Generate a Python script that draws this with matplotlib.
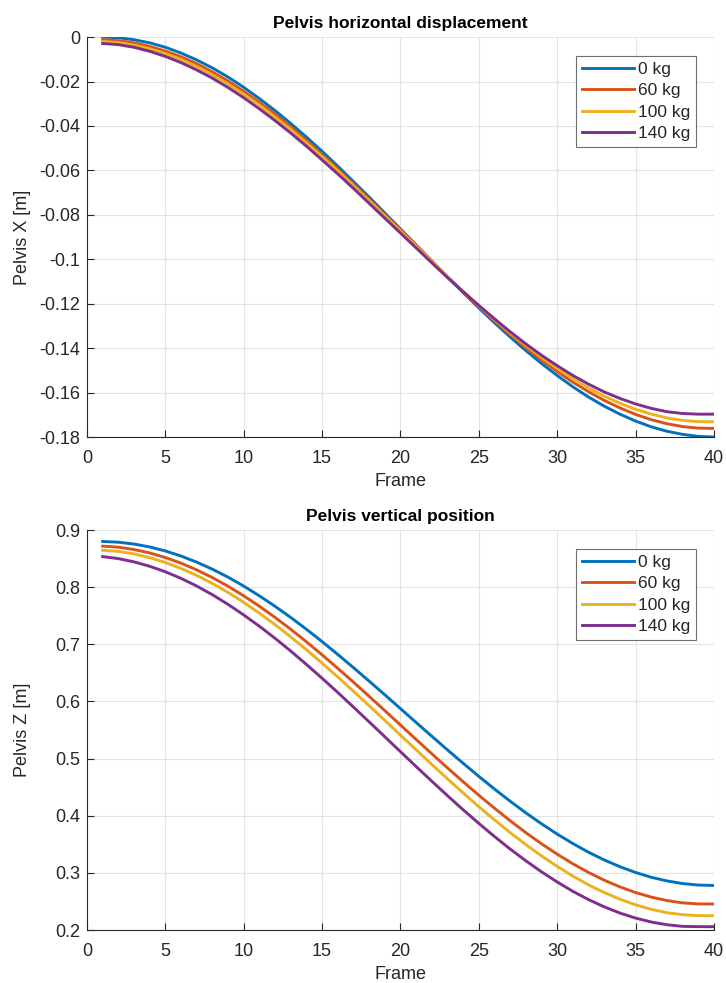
import numpy as np
import matplotlib.pyplot as plt

plt.rcParams['font.family'] = ['Liberation Sans', 'DejaVu Sans']
plt.rcParams['axes.unicode_minus'] = False

# Frames 1..40
frames = list(range(1, 41))
labels = ['0 kg', '60 kg', '100 kg', '140 kg']
colors = ['#0072BD', '#D95319', '#EDB120', '#7E2F8E']

# Pelvis X [m] per load
x_0kg = [0.0, -0.0003, -0.0012, -0.0026, -0.0046, -0.0072, -0.0103, -0.0139, -0.0180, -0.0226,
         -0.0277, -0.0331, -0.0389, -0.0450, -0.0514, -0.0581, -0.0650, -0.0720, -0.0792, -0.0864,
         -0.0936, -0.1008, -0.1080, -0.1150, -0.1219, -0.1286, -0.1350, -0.1411, -0.1469, -0.1523,
         -0.1574, -0.1620, -0.1661, -0.1697, -0.1728, -0.1754, -0.1774, -0.1788, -0.1797, -0.1800]
x_60kg = [-0.0012, -0.0016, -0.0026, -0.0042, -0.0063, -0.0089, -0.0120, -0.0157, -0.0198, -0.0244,
          -0.0294, -0.0347, -0.0404, -0.0465, -0.0528, -0.0593, -0.0660, -0.0729, -0.0799, -0.0869,
          -0.0939, -0.1009, -0.1079, -0.1147, -0.1213, -0.1277, -0.1339, -0.1398, -0.1453, -0.1505,
          -0.1553, -0.1596, -0.1635, -0.1669, -0.1698, -0.1722, -0.1740, -0.1753, -0.1760, -0.1761]
x_100kg = [-0.0020, -0.0025, -0.0036, -0.0053, -0.0074, -0.0101, -0.0133, -0.0170, -0.0211, -0.0257,
           -0.0306, -0.0360, -0.0416, -0.0476, -0.0538, -0.0602, -0.0669, -0.0736, -0.0805, -0.0873,
           -0.0942, -0.1011, -0.1078, -0.1145, -0.1209, -0.1271, -0.1331, -0.1388, -0.1442, -0.1491,
           -0.1537, -0.1579, -0.1616, -0.1648, -0.1675, -0.1697, -0.1714, -0.1725, -0.1731, -0.1731]
x_140kg = [-0.0029, -0.0034, -0.0046, -0.0064, -0.0087, -0.0115, -0.0148, -0.0185, -0.0227, -0.0273,
           -0.0323, -0.0376, -0.0432, -0.0491, -0.0553, -0.0616, -0.0681, -0.0748, -0.0815, -0.0882,
           -0.0949, -0.1016, -0.1082, -0.1146, -0.1208, -0.1268, -0.1326, -0.1381, -0.1432, -0.1479,
           -0.1523, -0.1562, -0.1597, -0.1626, -0.1651, -0.1671, -0.1686, -0.1694, -0.1697, -0.1697]

# Pelvis Z [m] per load
z_0kg = [0.8800, 0.8787, 0.8755, 0.8704, 0.8634, 0.8545, 0.8438, 0.8315, 0.8175, 0.8019,
         0.7848, 0.7665, 0.7470, 0.7264, 0.7047, 0.6823, 0.6592, 0.6356, 0.6117, 0.5875,
         0.5632, 0.5391, 0.5152, 0.4918, 0.4689, 0.4467, 0.4254, 0.4050, 0.3859, 0.3679,
         0.3513, 0.3361, 0.3226, 0.3108, 0.3007, 0.2923, 0.2859, 0.2813, 0.2787, 0.2780]
z_60kg = [0.8718, 0.8700, 0.8659, 0.8599, 0.8519, 0.8420, 0.8303, 0.8168, 0.8017, 0.7849,
          0.7666, 0.7471, 0.7263, 0.7045, 0.6816, 0.6580, 0.6338, 0.6090, 0.5840, 0.5588,
          0.5335, 0.5085, 0.4837, 0.4595, 0.4359, 0.4131, 0.3912, 0.3704, 0.3509, 0.3327,
          0.3159, 0.3007, 0.2872, 0.2755, 0.2656, 0.2576, 0.2516, 0.2475, 0.2457, 0.2455]
z_100kg = [0.8646, 0.8626, 0.8582, 0.8517, 0.8432, 0.8328, 0.8206, 0.8065, 0.7908, 0.7734,
           0.7545, 0.7344, 0.7130, 0.6905, 0.6670, 0.6428, 0.6179, 0.5926, 0.5669, 0.5411,
           0.5154, 0.4898, 0.4646, 0.4399, 0.4159, 0.3927, 0.3705, 0.3494, 0.3297, 0.3113,
           0.2944, 0.2790, 0.2656, 0.2539, 0.2441, 0.2362, 0.2303, 0.2268, 0.2252, 0.2250]
z_140kg = [0.8535, 0.8500, 0.8443, 0.8366, 0.8270, 0.8154, 0.8020, 0.7868, 0.7699, 0.7514,
           0.7316, 0.7105, 0.6882, 0.6648, 0.6406, 0.6157, 0.5902, 0.5643, 0.5383, 0.5121,
           0.4861, 0.4604, 0.4351, 0.4104, 0.3866, 0.3636, 0.3417, 0.3211, 0.3018, 0.2840,
           0.2677, 0.2532, 0.2406, 0.2297, 0.2209, 0.2140, 0.2092, 0.2064, 0.2059, 0.2058]

x_ticks = list(range(0, 41, 5))
yx_ticks = [0, -0.02, -0.04, -0.06, -0.08, -0.1, -0.12, -0.14, -0.16, -0.18]
yz_ticks = [0.2, 0.3, 0.4, 0.5, 0.6, 0.7, 0.8, 0.9]

axis_col = '#262626'

fig = plt.figure(figsize=(7.26, 9.83), dpi=100)
ax1 = fig.add_axes([0.1198, 0.5554, 0.8636, 0.4069])
ax2 = fig.add_axes([0.1198, 0.0539, 0.8636, 0.4069])


def style(ax, series, yticks, ylim, title, ylabel):
    for ys, lab, col in zip(series, labels, colors):
        ax.plot(frames, ys, color=col, linewidth=2.1, label=lab)
    ax.set_xlim(0, 40)
    ax.set_ylim(*ylim)
    ax.set_xticks(x_ticks)
    ax.set_yticks(yticks)
    ax.set_yticklabels(['%g' % t for t in yticks])
    ax.grid(True, color='#E3E3E3', linewidth=0.8)
    ax.set_axisbelow(True)
    for s in ['top', 'right']:
        ax.spines[s].set_visible(False)
    for s in ['left', 'bottom']:
        ax.spines[s].set_color(axis_col)
        ax.spines[s].set_linewidth(0.8)
    ax.tick_params(direction='in', length=5, width=0.8, colors=axis_col,
                   labelsize=13, labelcolor=axis_col, pad=5)
    ax.tick_params(axis='x', pad=9)
    ax.set_title(title, fontsize=12.5, fontweight='bold', pad=6.5)
    ax.set_xlabel('Frame', fontsize=13, color=axis_col, labelpad=5)
    ax.set_ylabel(ylabel, fontsize=13, color=axis_col)
    ax.yaxis.set_label_coords(-0.09, 0.5)
    leg = ax.legend(loc='upper right', bbox_to_anchor=(0.971, 0.952), borderaxespad=0,
                    fontsize=12.5, frameon=True, fancybox=False, framealpha=1,
                    edgecolor='#6E6E6E', handlelength=3.05, handletextpad=0.2,
                    labelspacing=0.36, borderpad=0.32)
    leg.get_frame().set_linewidth(0.8)
    for t in leg.get_texts():
        t.set_color(axis_col)


style(ax1, [x_0kg, x_60kg, x_100kg, x_140kg], yx_ticks, (-0.18, 0),
      'Pelvis horizontal displacement', 'Pelvis X [m]')
style(ax2, [z_0kg, z_60kg, z_100kg, z_140kg], yz_ticks, (0.2, 0.9),
      'Pelvis vertical position', 'Pelvis Z [m]')

fig.savefig('out.png', dpi=100)
